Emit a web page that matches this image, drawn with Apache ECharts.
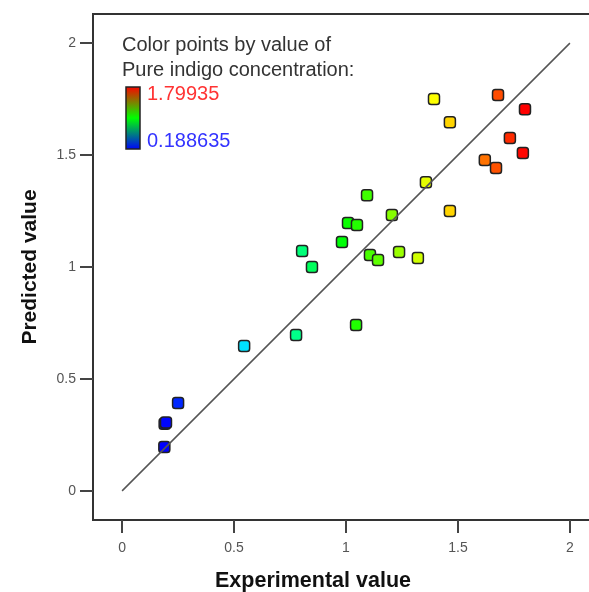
<!DOCTYPE html>
<html>
<head>
<meta charset="utf-8">
<script src="https://cdn.jsdelivr.net/npm/echarts@6.0.0/dist/echarts.min.js"></script>
<style>html,body{margin:0;padding:0;background:#fff}#c{width:589px;height:592px}</style>
</head>
<body>
<div id="c"></div>
<script>
// Experimental (actual) vs predicted values of pure indigo concentration
const experimental = [0.1886, 0.19, 0.196, 0.25, 0.545, 0.777, 1.045, 0.804, 0.848, 0.982, 1.009, 1.049, 1.094, 1.205,
  1.107, 1.143, 1.237, 1.321, 1.357, 1.464, 1.393, 1.464, 1.679, 1.7994, 1.732, 1.79, 1.62, 1.67];
const predicted = [0.196, 0.30, 0.306, 0.393, 0.647, 0.696, 0.741, 1.071, 1.0, 1.112, 1.196, 1.188, 1.321, 1.232,
  1.054, 1.031, 1.067, 1.04, 1.379, 1.25, 1.75, 1.647, 1.768, 1.705, 1.576, 1.509, 1.478, 1.442];
const tickValues = [0, 0.5, 1, 1.5, 2];
const diagonal = [[0, 0], [2, 2]];
const colorMin = 0.188635;
const colorMax = 1.79935;
const legendTitle = ['Color points by value of', 'Pure indigo concentration:'];
const xTitle = 'Experimental value';
const yTitle = 'Predicted value';

const FONT = '"Liberation Sans", Arial, sans-serif';
const points = experimental.map((x, i) => [x, predicted[i]]);

function axis(name, gap, labelMargin, namePadding, nameSize) {
  return {
    type: 'value', min: -0.13, max: 2.13,
    axisLine: { show: true, onZero: false, lineStyle: { color: '#333', width: 2 } },
    axisTick: { show: true, customValues: tickValues, length: 13, inside: false, lineStyle: { color: '#444', width: 2 } },
    axisLabel: { customValues: tickValues, margin: labelMargin, color: '#555', fontSize: 14, fontFamily: FONT, formatter: v => String(v) },
    splitLine: { show: false },
    name: name, nameLocation: 'middle', nameGap: gap,
    nameTextStyle: { fontWeight: 'bold', fontSize: nameSize, color: '#111', fontFamily: FONT, padding: namePadding }
  };
}

const chart = echarts.init(document.getElementById('c'), null, { renderer: 'canvas' });
chart.setOption({
  animation: false,
  backgroundColor: '#fff',
  grid: { left: 93, top: 14, width: 506, height: 506, show: true, borderColor: '#333', borderWidth: 2,
    containLabel: false, outerBoundsMode: 'none' },
  xAxis: axis(xTitle, 50, 21, [0, 66, 0, 0], 21.5),
  yAxis: axis(yTitle, 52, 17, [0, 0, 0, 0], 21),
  visualMap: {
    type: 'continuous', show: false, dimension: 0, seriesIndex: 0,
    min: colorMin, max: colorMax,
    inRange: { color: ['#0000ff', '#00ffff', '#00ff00', '#ffff00', '#ff0000'] }
  },
  series: [
    {
      type: 'scatter', data: points, symbol: 'roundRect', symbolSize: 11, z: 2,
      itemStyle: { borderColor: '#222', borderWidth: 1.5, opacity: 1 }
    },
    {
      type: 'line', data: diagonal, symbol: 'none', z: 3, silent: true,
      lineStyle: { color: '#555', width: 1.5 }
    }
  ],
  graphic: [
    { type: 'text', left: 122, top: 33, z: 10,
      style: { text: legendTitle.join('\n'), fill: '#333', fontSize: 20, fontFamily: FONT, lineHeight: 25 } },
    { type: 'rect', z: 10, shape: { x: 126, y: 87, width: 14, height: 62 },
      style: { fill: new echarts.graphic.LinearGradient(0, 0, 0, 1, [
        { offset: 0, color: '#ff0000' }, { offset: 0.5, color: '#00ff00' }, { offset: 1, color: '#0000ff' }]),
        stroke: '#222', lineWidth: 1.5 } },
    { type: 'text', x: 147, y: 94, z: 10,
      style: { text: String(colorMax), fill: '#ff3333', fontSize: 20, fontFamily: FONT, verticalAlign: 'middle' } },
    { type: 'text', x: 147, y: 141, z: 10,
      style: { text: String(colorMin), fill: '#3333ff', fontSize: 20, fontFamily: FONT, verticalAlign: 'middle' } }
  ]
});
</script>
</body>
</html>
